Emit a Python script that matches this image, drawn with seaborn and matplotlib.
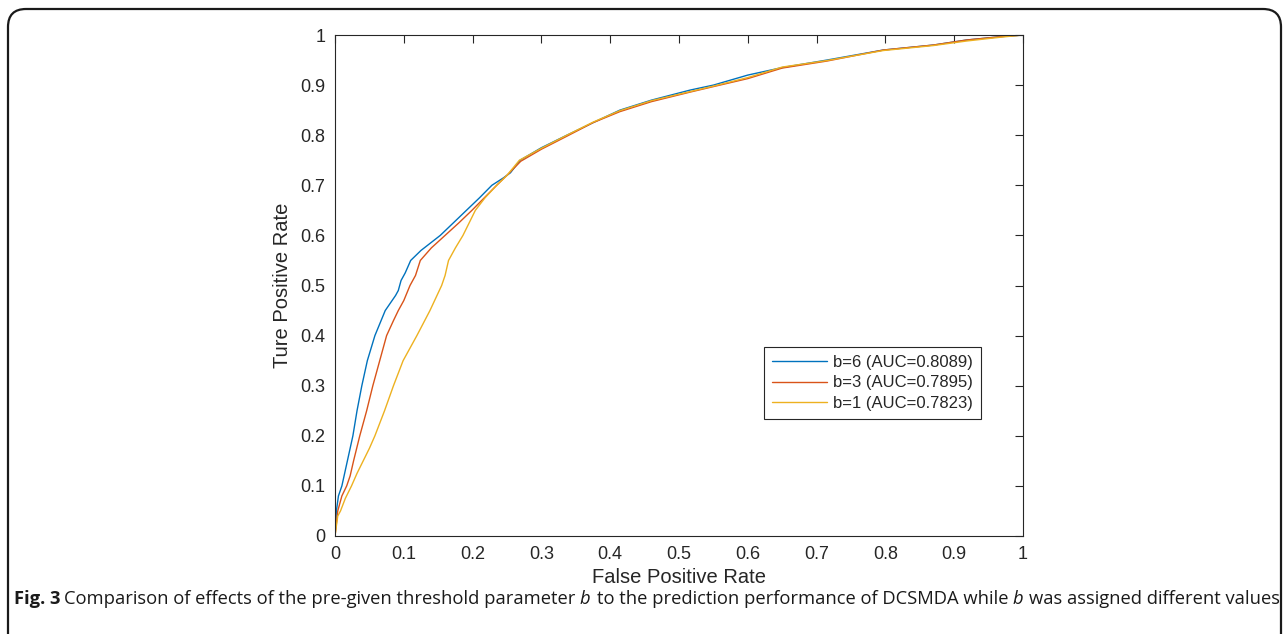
import matplotlib
matplotlib.use("Agg")
import matplotlib.pyplot as plt
import seaborn as sns
import pandas as pd
from matplotlib.patches import FancyBboxPatch

# ---- data ----
fpr_b6 = [0, 0.002, 0.005, 0.01, 0.018, 0.026, 0.032, 0.039, 0.047, 0.058, 0.07, 0.073,
          0.088, 0.092, 0.096, 0.102, 0.11, 0.125, 0.153, 0.172, 0.191, 0.21, 0.228,
          0.245, 0.255, 0.269, 0.3, 0.337, 0.375, 0.414, 0.46, 0.516, 0.55, 0.6, 0.65,
          0.715, 0.797, 0.87, 0.918, 0.97, 1]
tpr_b6 = [0, 0.05, 0.08, 0.1, 0.15, 0.2, 0.25, 0.3, 0.35, 0.4, 0.44, 0.45,
          0.48, 0.49, 0.51, 0.525, 0.55, 0.57, 0.6, 0.625, 0.65, 0.675, 0.7,
          0.715, 0.725, 0.75, 0.775, 0.8, 0.825, 0.85, 0.87, 0.89, 0.9, 0.92, 0.935,
          0.95, 0.97, 0.98, 0.99, 0.997, 1]

fpr_b3 = [0, 0.004, 0.01, 0.017, 0.022, 0.027, 0.036, 0.046, 0.055, 0.065, 0.075, 0.085,
          0.092, 0.1, 0.109, 0.117, 0.124, 0.14, 0.16, 0.18, 0.199, 0.217, 0.235,
          0.25, 0.27, 0.3, 0.337, 0.375, 0.414, 0.46, 0.516, 0.55, 0.6, 0.65,
          0.715, 0.797, 0.87, 0.918, 0.97, 1]
tpr_b3 = [0, 0.05, 0.08, 0.1, 0.12, 0.15, 0.2, 0.25, 0.3, 0.35, 0.4, 0.43,
          0.45, 0.47, 0.5, 0.52, 0.55, 0.575, 0.6, 0.625, 0.65, 0.675, 0.7,
          0.72, 0.748, 0.772, 0.798, 0.825, 0.847, 0.867, 0.886, 0.897, 0.913, 0.934,
          0.948, 0.97, 0.98, 0.99, 0.997, 1]

fpr_b1 = [0, 0.004, 0.008, 0.015, 0.024, 0.032, 0.041, 0.05, 0.058, 0.072, 0.085, 0.099,
          0.119, 0.138, 0.155, 0.16, 0.165, 0.175, 0.186, 0.195, 0.204, 0.218, 0.235,
          0.25, 0.268, 0.3, 0.337, 0.375, 0.414, 0.46, 0.516, 0.55, 0.6, 0.65,
          0.715, 0.797, 0.87, 0.918, 0.97, 1]
tpr_b1 = [0, 0.04, 0.05, 0.075, 0.1, 0.125, 0.15, 0.175, 0.2, 0.25, 0.3, 0.35,
          0.4, 0.45, 0.5, 0.52, 0.55, 0.575, 0.6, 0.625, 0.65, 0.675, 0.7,
          0.72, 0.75, 0.774, 0.8, 0.826, 0.849, 0.869, 0.887, 0.898, 0.915, 0.936,
          0.949, 0.969, 0.979, 0.988, 0.996, 1]

series_labels = ["b=6 (AUC=0.8089)", "b=3 (AUC=0.7895)", "b=1 (AUC=0.7823)"]
series_colors = ["#0072BD", "#D95319", "#EDB120"]

tick_values = [0, 0.1, 0.2, 0.3, 0.4, 0.5, 0.6, 0.7, 0.8, 0.9, 1]
tick_labels = ["0", "0.1", "0.2", "0.3", "0.4", "0.5", "0.6", "0.7", "0.8", "0.9", "1"]

x_label = "False Positive Rate"
y_label = "Ture Positive Rate"
caption_parts = [
    ("Fig. 3", "bold", "normal"),
    ("Comparison of effects of the pre-given threshold parameter", "normal", "normal"),
    ("b", "normal", "italic"),
    ("to the prediction performance of DCSMDA while", "normal", "normal"),
    ("b", "normal", "italic"),
    ("was assigned different values", "normal", "normal"),
]

# ---- build long table ----
frames = []
for lab, xs, ys in zip(series_labels, [fpr_b6, fpr_b3, fpr_b1], [tpr_b6, tpr_b3, tpr_b1]):
    frames.append(pd.DataFrame({"fpr": xs, "tpr": ys, "series": lab}))
df = pd.concat(frames, ignore_index=True)

sns.set_theme(style="white")
plt.rcParams["font.family"] = ["Liberation Sans", "DejaVu Sans"]
AX_COL = "#262626"

fig = plt.figure(figsize=(12.87, 6.34), dpi=100)
ax = fig.add_axes([335 / 1287, 1 - 536 / 634, 688 / 1287, 501 / 634])

sns.lineplot(data=df, x="fpr", y="tpr", hue="series", hue_order=series_labels,
             palette=series_colors, sort=False, estimator=None, linewidth=1.0, ax=ax)

ax.set_xlim(0, 1)
ax.set_ylim(0, 1)
ax.set_xticks(tick_values)
ax.set_xticklabels(tick_labels)
ax.set_yticks(tick_values)
ax.set_yticklabels(tick_labels)
ax.tick_params(direction="in", length=6, width=0.8, colors=AX_COL, labelsize=13,
               top=True, right=True, pad=7)
for sp in ax.spines.values():
    sp.set_visible(True)
    sp.set_color(AX_COL)
    sp.set_linewidth(0.8)
ax.set_xlabel(x_label, fontsize=14.5, color=AX_COL, labelpad=4)
ax.set_ylabel(y_label, fontsize=14.5, color=AX_COL, labelpad=6)

leg = ax.legend(loc="lower left", bbox_to_anchor=(0.6235, 0.2335), borderaxespad=0,
                fontsize=12, frameon=True, fancybox=False, framealpha=1,
                edgecolor=AX_COL, handlelength=3.3, handletextpad=0.35,
                borderpad=0.5, labelspacing=0.32)
leg.get_frame().set_linewidth(0.8)
for line in leg.get_lines():
    line.set_linewidth(1.0)

# ---- outer rounded frame ----
frame = FancyBboxPatch((8 / 1287, -0.1), 1273 / 1287, 1.1 - 9 / 634,
                       boxstyle="round,pad=0,rounding_size=0.014",
                       transform=fig.transFigure, fill=False,
                       edgecolor="#1a1a1a", linewidth=1.6, mutation_aspect=2.03)
fig.patches.append(frame)

# ---- caption, placed piece by piece, sized to span 14..1276 px ----
renderer = fig.canvas.get_renderer()


def draw_caption(size):
    texts = []
    x = 14 / 1287
    y = 1 - 604 / 634
    space = size * 0.3 / 1287
    for txt, weight, style in caption_parts:
        t = fig.text(x, y, txt, fontsize=size, fontweight=weight, fontstyle=style,
                     family=["Open Sans", "DejaVu Sans"], color="#1a1a1a", va="baseline")
        bb = t.get_window_extent(renderer)
        texts.append(t)
        x += bb.width / 1287 + space * (1.6 if style == "italic" else 1.0)
    right_px = texts[-1].get_window_extent(renderer).x1
    return texts, right_px


texts, right_px = draw_caption(13.0)
target = 1276
if abs(right_px - target) > 2:
    new_size = 13.0 * (target - 14) / (right_px - 14)
    for t in texts:
        t.remove()
    draw_caption(new_size)

fig.savefig("out.png", dpi=100, facecolor="white")
